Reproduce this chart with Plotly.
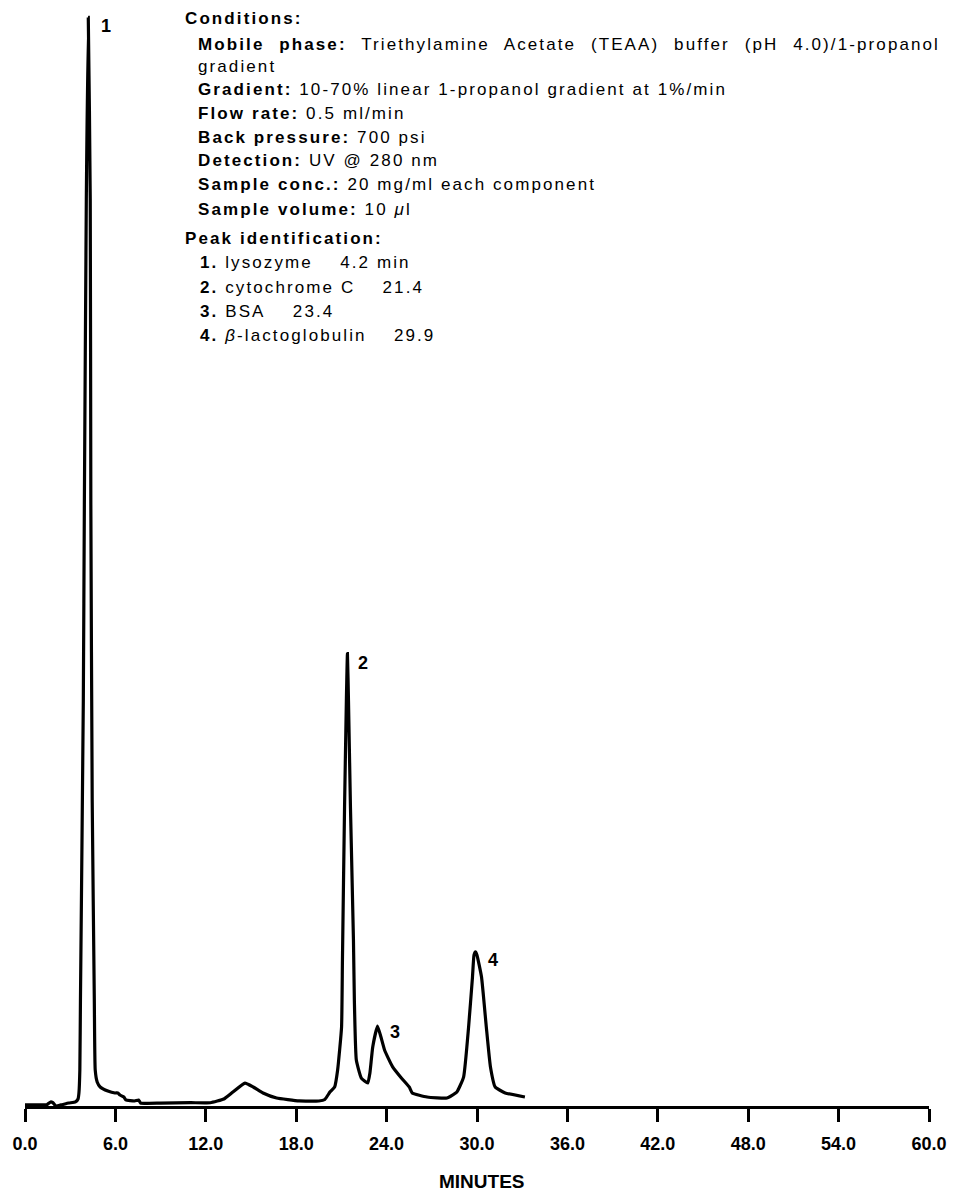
import plotly.graph_objects as go

# Chromatogram trace: retention time (min) and detector response (% of full scale)
time_min = [
    0.0, 1.0, 1.45, 1.7, 1.85, 2.05, 2.4, 2.9, 3.35, 3.52, 3.58,
    3.64, 3.68, 3.87, 3.94, 4.07, 4.20, 4.33, 4.37, 4.46, 4.60, 4.66,
    4.79, 4.99, 5.5, 5.97, 6.16, 6.3, 6.56, 6.69, 7.28, 7.54, 7.67,
    9.0, 11.0, 12.3, 13.2, 13.8, 14.6, 15.15, 15.8, 16.7, 18.2, 19.5,
    19.9, 20.25, 20.55, 20.75, 21.01, 21.07, 21.21, 21.33, 21.40,
    21.47, 21.60, 21.80, 21.86, 21.99, 22.32, 22.75, 22.89, 23.08,
    23.40, 23.87, 24.39, 24.98, 25.5, 25.7, 26.69, 28.0, 28.66, 29.11,
    29.44, 29.70, 29.80, 29.90, 30.00, 30.30, 30.62, 30.89, 31.21,
    31.87, 33.18,
]
signal = [
    0.1, 0.1, 0.12, 0.37, 0.3, 0.0, 0.1, 0.27, 0.37, 0.64, 1.2,
    3.3, 9.7, 37.0, 55.0, 83.0, 99.6, 83.0, 55.0, 28.0, 9.7, 3.3,
    2.2, 1.74, 1.37, 1.19, 1.19, 1.0, 0.82, 0.55, 0.46, 0.55, 0.27,
    0.27, 0.3, 0.3, 0.64, 1.28, 2.1, 1.74, 1.19, 0.73, 0.46, 0.46,
    0.6, 1.3, 1.74, 3.3, 7.2, 13.4, 27.4, 37.1, 41.4,
    37.1, 27.4, 15.2, 9.7, 4.2, 2.56, 2.1, 3.0, 5.4,
    7.3, 5.1, 3.6, 2.56, 1.74, 1.19, 0.82, 0.73, 1.28, 2.65,
    7.2, 11.8, 13.8, 14.1, 13.8, 11.8, 7.2, 3.6, 1.74,
    1.19, 0.82,
]

# Peak labels
peak_numbers = ["1", "2", "3", "4"]
peak_times = [4.2, 21.4, 23.4, 29.9]
peak_heights = [99.6, 41.4, 7.3, 14.1]

# Axis ticks
tick_values = [0, 6, 12, 18, 24, 30, 36, 42, 48, 54, 60]
tick_labels = ["0.0", "6.0", "12.0", "18.0", "24.0", "30.0",
               "36.0", "42.0", "48.0", "54.0", "60.0"]

# Method description
condition_keys = ["Mobile phase:", "", "Gradient:", "Flow rate:", "Back pressure:",
                  "Detection:", "Sample conc.:", "Sample volume:"]
condition_values = [
    "Triethylamine Acetate (TEAA) buffer (pH 4.0)/1-propanol",
    "gradient",
    "10-70% linear 1-propanol gradient at 1%/min",
    "0.5 ml/min",
    "700 psi",
    "UV @ 280 nm",
    "20 mg/ml each component",
    "10 <i>\u03bc</i>l",
]
peak_names = ["lysozyme", "cytochrome C", "BSA", "<i>\u03b2</i>-lactoglobulin"]
peak_id_times = ["4.2 min", "21.4", "23.4", "29.9"]

W, H = 959, 1192
ML, MR, MT, MB = 23, 21, 13, 86
FONT = "Liberation Sans, Arial, Helvetica, sans-serif"
TRACKING = "letter-spacing:2.1px"


def px(xp, yp):
    """Convert page pixel position to paper coordinates."""
    return (xp - ML) / (W - ML - MR), (H - MB - yp) / (H - MT - MB)


fig = go.Figure()
fig.add_trace(go.Scatter(
    x=time_min, y=signal, mode="lines",
    line=dict(color="black", width=3.2, shape="spline", smoothing=0.4),
    hoverinfo="skip", showlegend=False,
))

annotations = []

# peak numbers beside each apex
label_shifts = [(11, -9), (9, -9), (10, -6), (11, -8)]
for num, t, h, (dx, dy) in zip(peak_numbers, peak_times, peak_heights, label_shifts):
    annotations.append(dict(
        x=t, y=h, xref="x", yref="y", text=f"<b>{num}</b>",
        xanchor="left", yanchor="middle", xshift=dx, yshift=dy,
        showarrow=False, font=dict(family=FONT, size=18, color="black"),
    ))

TEXT_FONT = dict(family=FONT, size=17, color="black")


def add_text(xp, yp, text, spacing=TRACKING):
    ax, ay = px(xp, yp)
    annotations.append(dict(
        x=ax, y=ay, xref="paper", yref="paper",
        text=f'<span style="{spacing}">{text}</span>',
        xanchor="left", yanchor="middle", showarrow=False, font=TEXT_FONT,
    ))


add_text(183, 19, "<b>Conditions:</b>")
cond_y = [44, 66, 89, 113, 137, 161, 185, 209]
for i, (key, val, yp) in enumerate(zip(condition_keys, condition_values, cond_y)):
    text = (f"<b>{key}</b> " if key else "") + val
    # first line of the wrapped paragraph is set justified
    style = TRACKING + ";word-spacing:8px" if i == 0 else TRACKING
    add_text(196, yp, text, style)

add_text(183, 238, "<b>Peak identification:</b>")
id_y = [263, 287, 311, 335]
gap = "\u00a0" * 4
for num, name, rt, yp in zip(peak_numbers, peak_names, peak_id_times, id_y):
    add_text(198, yp, f"<b>{num}.</b>\u00a0{name}{gap}{rt}")

# axis caption
cx, cy = px(486, 1181)
annotations.append(dict(
    x=cx, y=cy, xref="paper", yref="paper", text="<b>MINUTES</b>",
    xanchor="center", yanchor="middle", showarrow=False,
    font=dict(family=FONT, size=19, color="black"),
))

fig.update_layout(
    width=W, height=H,
    margin=dict(l=ML, r=MR, t=MT, b=MB, pad=0),
    paper_bgcolor="white", plot_bgcolor="white",
    showlegend=False,
    annotations=annotations,
    xaxis=dict(
        range=[0, 60], tickvals=tick_values, ticktext=tick_labels,
        ticks="outside", ticklen=13, tickwidth=2.8, tickcolor="black",
        showline=True, linewidth=2.8, linecolor="black",
        showgrid=False, zeroline=False, ticklabelstandoff=6,
        tickfont=dict(family=FONT, size=18, color="black", weight="bold"),
    ),
    yaxis=dict(range=[0, 100], visible=False, fixedrange=True),
)

fig.write_html("out.html")
